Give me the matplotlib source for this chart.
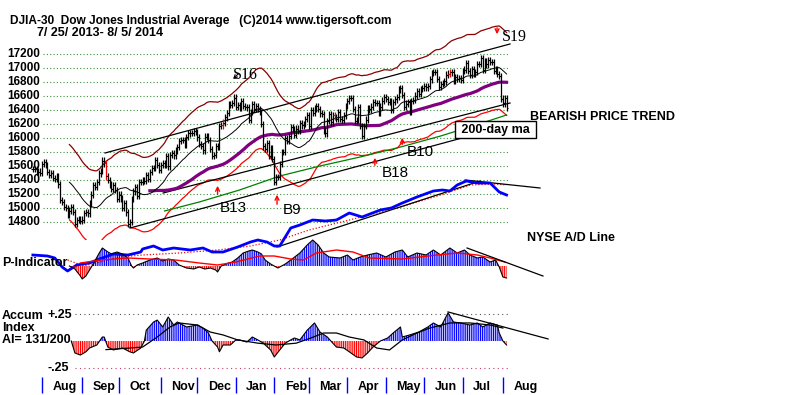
import numpy as np
import pandas as pd
import matplotlib
matplotlib.use("Agg")
import matplotlib.pyplot as plt

W, H = 800, 395
plt.rcParams['font.family'] = ['Liberation Sans', 'DejaVu Sans']
plt.rcParams['hatch.linewidth'] = 0.8

# NYSE trading days shown on the chart
holidays = ["2013-09-02", "2013-11-28", "2013-12-25", "2014-01-01", "2014-01-20",
            "2014-02-17", "2014-04-18", "2014-05-26", "2014-07-04"]
days = pd.bdate_range("2013-07-25", "2014-08-05")
days = days[~days.isin(pd.to_datetime(holidays))]

# DJIA daily closes
closes = [
    15555, 15559, 15521, 15520, 15500,  # Jul 13
    15628, 15658, 15612, 15518, 15470, 15498, 15425, 15419, 15451, 15337, 15112,
    15081, 15010, 15002, 14897, 14963, 15010, 14946, 14776, 14824, 14840, 14810,  # Aug
    14834, 14930, 14938, 14922, 15063, 15191, 15327, 15300, 15376, 15494, 15529,
    15677, 15636, 15451, 15401, 15334, 15273, 15329, 15258, 15130,  # Sep
    15192, 15134, 14997, 15073, 14936, 14776, 14803, 15126, 15237, 15301, 15168,
    15374, 15372, 15400, 15392, 15467, 15413, 15510, 15570, 15569, 15680, 15618, 15546,  # Oct
    15616, 15639, 15618, 15747, 15594, 15762, 15783, 15751, 15822, 15876, 15962,
    15976, 15967, 15901, 16010, 16065, 16073, 16073, 16098, 16086,  # Nov
    16008, 15915, 15889, 15822, 16020, 16026, 15973, 15844, 15740, 15755, 15884,
    15875, 16168, 16179, 16221, 16294, 16357, 16479, 16478, 16504, 16577,  # Dec
    16441, 16469, 16426, 16531, 16462, 16445, 16437, 16257, 16374, 16482, 16418,
    16458, 16414, 16373, 16198, 15880, 15838, 15929, 15739, 15849, 15699,  # Jan 14
    15373, 15446, 15441, 15629, 15795, 15802, 15994, 15964, 16027, 16154, 16130,
    16041, 16134, 16104, 16208, 16180, 16199, 16273, 16322,  # Feb
    16168, 16396, 16361, 16422, 16453, 16419, 16351, 16341, 16109, 16066, 16247,
    16337, 16223, 16331, 16303, 16277, 16368, 16268, 16264, 16323, 16458,  # Mar
    16533, 16573, 16573, 16413, 16246, 16256, 16437, 16171, 16027, 16174, 16263,
    16425, 16409, 16449, 16514, 16502, 16501, 16361, 16448, 16535, 16581,  # Apr
    16558, 16513, 16531, 16401, 16518, 16551, 16583, 16695, 16715, 16613, 16447,
    16492, 16511, 16374, 16533, 16543, 16606, 16676, 16634, 16699, 16717,  # May
    16744, 16722, 16738, 16836, 16924, 16943, 16946, 16844, 16734, 16776, 16781,
    16808, 16906, 16921, 16947, 16937, 16818, 16867, 16846, 16851, 16827,  # Jun
    16957, 16977, 17068, 16956, 16907, 16986, 16915, 16944, 17055, 17060, 17138,
    16977, 17100, 17052, 17114, 17087, 17083, 16961, 16983, 16913, 16881, 16563,  # Jul
    16493, 16570, 16430,  # Aug
]
red_days = ["2013-09-20", "2013-12-20", "2014-03-21", "2014-06-20"]
price_ticks = [17200, 17000, 16800, 16600, 16400, 16200, 16000, 15800,
               15600, 15400, 15200, 15000, 14800]

# green "200-day ma" line (day index, price)
ma200_idx = [72, 91, 113, 135, 157, 179, 201, 223, 244, 259]
ma200_val = [14957, 15086, 15257, 15457, 15600, 15729, 15871, 16029, 16200, 16329]

# straight trend lines on price (day index pairs, price pairs)
trend_lines = [([39.5, 260.9], [15786, 17343]),
               ([53.1, 260.9], [14714, 16186]),
               ([71.2, 260.9], [15214, 16500])]

# NYSE A/D line (chart units)
ad_idx = [0, 8, 12, 16, 19, 24, 31, 35, 38, 44, 52, 59, 60, 66, 71, 77, 86, 93, 98,
          104, 112, 119, 123, 128, 132, 135, 141, 146, 153, 160, 166, 173, 180, 190,
          196, 202, 210, 219, 224, 228, 232, 237, 243, 250, 255, 259]
ad_val = [45, 44, 42, 33, 29, 35, 37, 40, 42, 46, 45, 48, 51, 54, 50, 52, 50, 52, 48,
          48, 53, 58, 60, 58, 54, 54, 72, 75, 80, 79, 80, 87, 83, 90, 92, 97, 103, 109,
          110, 109, 115, 119, 117, 117, 108, 105]
ad_ma_idx = [19, 28, 37, 48, 60, 80, 101, 119, 135, 151, 173, 201, 223, 239, 253, 259]
ad_ma_val = [40, 34, 38, 43, 45, 47, 50, 54, 60, 70, 80, 93, 105, 115, 116, 115]
ad_support = ([133.5, 244.5], [53, 119])
ad_resist = ([236.3, 277.3], [120, 112])

# P-Indicator (chart units)
pi_idx = [20, 23, 26, 27, 29, 31, 33, 36, 38, 41, 43, 46, 49, 52, 54, 55, 57, 60, 64,
          68, 71, 74, 77, 80, 84, 88, 91, 94, 97, 100, 101, 103, 107, 109, 112, 115,
          118, 120, 123, 125, 127, 130, 131, 134, 135, 138, 141, 146, 150, 153, 156,
          159, 162, 168, 172, 175, 179, 183, 188, 193, 198, 202, 205, 210, 215, 219,
          223, 228, 232, 236, 239, 243, 246, 250, 253, 255, 257, 259]
pi_val = [0, -3, -10, -13, -10, -4, 2, 12, 18, 14, 12, 14, 12, 8, 0, -2, 1, 3, 6,
          8, 5, 7, 6, 1, -2, -3, -1, -3, -2, -4, -6, 0, 3, 4, 8, 13,
          15, 16, 14, 12, 6, 2, 1, -2, -1, 2, 6, 13, 21, 26, 21,
          13, 9, 8, 11, 6, 9, 11, 13, 9, 14, 16, 9, 13, 11, 16,
          11, 18, 13, 16, 11, 8, 9, 4, 6, -1, -11, -12]
pi_ma_idx = [26, 37, 52, 64, 78, 91, 101, 111, 124, 132, 141, 148, 155, 166, 175,
             184, 202, 221, 232, 243, 250, 258]
pi_ma_val = [3, 6, 8, 7, 6, 3, 1, 4, 10, 10, 7, 6, 13, 16, 14, 8, 7, 11, 13, 11, 8, 4]
pi_trend = ([237.4, 278.9], [18, -10])

# Accumulation Index
ai_idx = [21, 23, 26, 29, 31, 35, 38, 39, 41, 44, 49, 53, 55, 59, 61, 62, 66, 68, 71,
          74, 77, 79, 84, 90, 93, 96, 98, 101, 102, 104, 108, 111, 113, 117, 120, 123,
          126, 130, 132, 135, 138, 141, 143, 146, 150, 154, 157, 161, 164, 166, 170,
          173, 177, 180, 183, 186, 190, 194, 197, 201, 202, 206, 211, 216, 219, 223,
          227, 230, 234, 239, 243, 246, 250, 254, 255, 257, 259]
ai_val = [0, -.111, -.130, -.10, -.065, -.037, .037, .037, -.056, -.083, -.065, -.10,
          -.111, -.065, 0, .10, .176, .194, .13, .222, .148, .176, .13, .148, .12, .074,
          0, -.056, -.10, -.037, -.037, .01, .01, -.01, .037, .01, -.02, -.083, -.148,
          -.083, -.02, .01, .028, .01, .10, .167, .083, .037, -.02, -.056, -.065, -.10,
          -.148, -.157, -.111, -.056, 0, .028, .074, .13, .037, .056, .083, .13, .167,
          .13, .26, .176, .167, .148, .167, .13, .167, .148, .074, 0, -.037]
ai_ma_idx = [40, 53, 60, 68, 75, 80, 90, 97, 104, 112, 123, 133, 144, 152, 159, 166,
             173, 181, 188, 195, 202, 210, 217, 228, 239, 250, 257]
ai_ma_val = [-.08, -.065, -.056, .037, .13, .167, .148, .083, .056, .01, -.02, -.037,
             -.02, .028, .074, .074, .037, .01, -.065, -.083, .01, .074, .12, .167,
             .167, .148, .12]
ai_trend = ([227, 281.7], [.269, .019])

# ---- layout: 1.829 px per trading day, first bar at x=32.85 px
X0, X1 = -32.85 / 1.829, (800 - 32.85) / 1.829
fig = plt.figure(figsize=(W / 100, H / 100), dpi=100)


def panel(top, bottom, ylo, yhi):
    ax = fig.add_axes([0, 1 - bottom / H, 1, (bottom - top) / H])
    ax.set_xlim(X0, X1)
    ax.set_ylim(ylo, yhi)
    ax.axis('off')
    ax.patch.set_alpha(0)
    return ax


def put(xpx, ypx, s, **kw):
    kw.setdefault('fontsize', 9)
    kw.setdefault('fontweight', 'bold')
    fig.text(xpx / W, 1 - ypx / H, s, va='center', **kw)


def striped(ax, x, y, pos_col, neg_col):
    x = np.asarray(x, float)
    y = np.asarray(y, float)
    for cond, col in ((y >= 0, pos_col), (y <= 0, neg_col)):
        plt.rcParams['hatch.color'] = col
        ax.fill_between(x, 0, y, where=cond, interpolate=True, facecolor='none',
                        edgecolor=col, hatch='|' * 9, linewidth=0)
    ax.plot(x, y, color='black', lw=0.8)


# price panel: 17200 at y=54 px, 0.07 px per point
pax = panel(0, 240, 17200 - 186 / 0.07, 17200 + 54 / 0.07)
ytr = pax.get_yaxis_transform()
pax.hlines(price_ticks, 0.054, 0.636, transform=ytr, colors='#3f8f3f',
           linestyles=(0, (1, 2)), lw=0.8)
for p in price_ticks:
    pax.text(0.05, p, str(p), transform=ytr, ha='right', va='center',
             fontsize=8.5, fontweight='bold')

c = np.array(closes, float)
x = np.arange(len(c))
s = pd.Series(c)
ma21 = s.rolling(21).mean()
ma65 = s.rolling(65).mean()
pax.plot(x, ma21 * 1.035, color='#8b0000', lw=0.9)
pax.plot(x, ma21 * 0.965, color='red', lw=0.9)
pax.plot(ma200_idx, ma200_val, color='green', lw=0.9)
for xs, ys in trend_lines:
    pax.plot(xs, ys, color='black', lw=0.9)
pax.plot(x, ma65, color='#800080', lw=2.3)
pax.plot(x, ma21, color='black', lw=0.7)

prev = np.r_[c[0], c[:-1]]
lo = np.minimum(prev, c) - 45
hi = np.maximum(prev, c) + 45
is_red = days.isin(pd.to_datetime(red_days))
bar_cols = np.where(is_red, 'red', 'black')
pax.vlines(x, lo, hi, colors=bar_cols, lw=0.9)
pax.hlines(c, x, x + 0.9, colors=bar_cols, lw=0.8)
pax.hlines(prev, x - 0.9, x, colors=bar_cols, lw=0.8)

arrow = dict(arrowstyle='->', color='red', lw=1, mutation_scale=7)
for lab, i, y0, y1, tx, ty in [("B13", 101, 15157, 15357, 102.4, 14999),
                               ("B9", 133.5, 15014, 15229, 136.8, 14971),
                               ("B18", 187, 15571, 15757, 190.9, 15500),
                               ("B10", 202, 15871, 16043, 204.6, 15800)]:
    pax.annotate('', xy=(i, y1), xytext=(i, y0), arrowprops=arrow)
    pax.text(tx, ty, lab, fontsize=11, va='center')
pax.annotate('', xy=(253.8, 17443), xytext=(253.8, 17614), arrowprops=arrow)
pax.text(256.5, 17443, "S19", fontsize=11.5, va='center', family='Liberation Serif')
pax.annotate('', xy=(108.4, 16814), xytext=(113.3, 16943),
             arrowprops=dict(arrowstyle='->', color='black', lw=0.8, mutation_scale=6))
pax.text(109.4, 16900, "S16", fontsize=11.5, va='center', family='Liberation Serif')
pax.text(252.9, 16121, " 200-day ma ", fontsize=9, fontweight='bold', ha='center',
         va='center', bbox=dict(boxstyle='square,pad=0.2', fc='white', ec='black', lw=1))

# A/D line panel (chart units)
aax = panel(170, 285, 15, 130)
aax.plot(ad_ma_idx, ad_ma_val, color='red', lw=0.9, ls=(0, (1, 1.5)))
aax.plot(*ad_support, color='black', lw=0.9)
aax.plot(*ad_resist, color='black', lw=0.9)
aax.plot(ad_idx, ad_val, color='blue', lw=2)

# P-Indicator panel
iax = panel(235, 295, -29, 31)
striped(iax, pi_idx, pi_val, 'blue', 'red')
iax.plot(pi_ma_idx, pi_ma_val, color='red', lw=1)
iax.plot(*pi_trend, color='black', lw=0.9)

# Accumulation Index panel: zero at y=341 px, 0.25 per 27 px
zax = panel(295, 395, -0.5, 46 / 108)
xtr = zax.get_yaxis_transform()
zax.hlines(0.25, 0.094, 0.638, transform=xtr, colors='#555555', linestyles=(0, (1, 3)), lw=0.8)
zax.hlines(-0.25, 0.094, 0.638, transform=xtr, colors='#c04070', linestyles=(0, (1, 3)), lw=0.8)
striped(zax, ai_idx, ai_val, 'blue', 'red')
zax.plot(ai_ma_idx, ai_ma_val, color='black', lw=0.9)
zax.plot(*ai_trend, color='black', lw=0.9)

# month ticks and names
month_start = [i for i in range(1, len(days)) if days[i].month != days[i - 1].month]
zax.vlines(month_start, -0.481, -0.333, colors='blue', lw=1)
for i in month_start:
    zax.text(i + 5.7, -0.426, days[i].strftime('%b'), fontsize=9, fontweight='bold',
             va='center')

# text labels
put(10, 21, "DJIA-30  Dow Jones Industrial Average   (C)2014 www.tigersoft.com",
    fontsize=8.6)
put(37, 33, "7/ 25/ 2013- 8/ 5/ 2014")
put(530, 117, "BEARISH PRICE TREND")
put(527, 238, "NYSE A/D Line")
put(2, 263, "P-Indicator")
put(2, 316, "Accum")
put(2, 328, "Index")
put(2, 340, "AI= 131/200")
put(47, 315, "+.25")
put(47, 368, "-.25")

fig.savefig("out.png", dpi=100)
